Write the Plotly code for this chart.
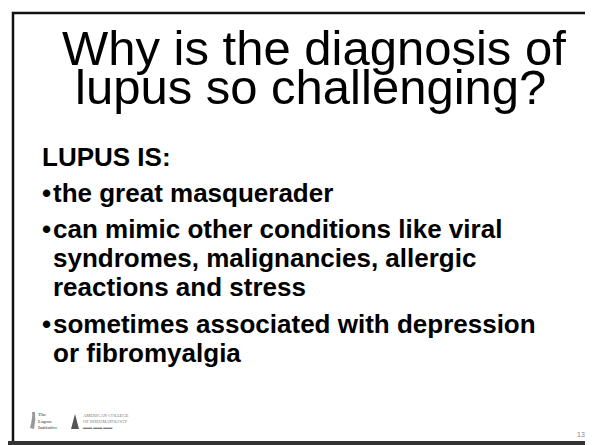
import plotly.graph_objects as go

W, H = 593, 445

title_lines = ["Why is the diagnosis of", "lupus so challenging?"]
heading = "LUPUS IS:"
bullets = [
    ["the great masquerader"],
    ["can mimic other conditions like viral", "syndromes, malignancies, allergic", "reactions and stress"],
    ["sometimes associated with depression", "or fibromyalgia"],
]
page_number = "13"

fig = go.Figure()
annotations = []
shapes = []

# frame
shapes.append(dict(type="rect", x0=5, x1=W + 5, y0=5, y1=436, line=dict(color="#111111", width=2.5),
                   fillcolor="rgba(0,0,0,0)", layer="below"))
shapes.append(dict(type="rect", x0=0, x1=W, y0=433, y1=H, line=dict(width=0), fillcolor="#333333"))

# title
title_font = dict(family="Liberation Sans, Arial", size=49, color="#000000")
title_centers = [306, 302]
title_mid = [40, 79]
for txt, cx, cy in zip(title_lines, title_centers, title_mid):
    annotations.append(dict(text=txt, x=cx, y=cy, xref="x", yref="y", showarrow=False,
                            xanchor="center", yanchor="middle", font=title_font))

# body
body_font = dict(family="Liberation Sans, Arial", size=26, color="#000000")
annotations.append(dict(text="<b>" + heading + "</b>", x=32, y=149, xref="x", yref="y", showarrow=False,
                        xanchor="left", yanchor="middle", font=body_font))
para_starts = [185, 221, 316]
line_step = 29
for para, y0 in zip(bullets, para_starts):
    for i, line in enumerate(para):
        y = y0 + i * line_step
        if i == 0:
            annotations.append(dict(text="<b>•</b>", x=32, y=y, xref="x", yref="y", showarrow=False,
                                    xanchor="left", yanchor="middle", font=body_font))
        annotations.append(dict(text="<b>" + line + "</b>", x=43, y=y, xref="x", yref="y", showarrow=False,
                                xanchor="left", yanchor="middle", font=body_font))

# logos (approximation as small grey text)
annotations.append(dict(text="<b>The<br>Lupus<br>Initiative</b>", x=28, y=413, xref="x", yref="y",
                        showarrow=False, xanchor="left", yanchor="middle", align="left",
                        font=dict(family="Liberation Serif", size=5, color="#777777")))
shapes.append(dict(type="path", path="M 63 421 L 67 406 L 71 421 Z", fillcolor="#555555", line=dict(width=0)))
annotations.append(dict(text="AMERICAN COLLEGE<br>OF RHEUMATOLOGY<br>▬▬ ▬▬ ▬▬", x=73, y=413, xref="x", yref="y",
                        showarrow=False, xanchor="left", yanchor="middle", align="left",
                        font=dict(family="Liberation Serif", size=4.5, color="#777777")))
shapes.append(dict(type="path", path="M 22 420 Q 25 408 24 404 L 27 404 Q 28 412 26 421 Z",
                   fillcolor="#999999", line=dict(width=0)))

annotations.append(dict(text=page_number, x=573, y=426, xref="x", yref="y", showarrow=False,
                        xanchor="center", yanchor="middle",
                        font=dict(family="Liberation Sans", size=7, color="#888888")))

fig.update_layout(
    width=W, height=H, margin=dict(l=0, r=0, t=0, b=0),
    paper_bgcolor="white", plot_bgcolor="white",
    xaxis=dict(range=[0, W], visible=False, fixedrange=True),
    yaxis=dict(range=[H, 0], visible=False, fixedrange=True),
    annotations=annotations, shapes=shapes, showlegend=False,
)
fig.write_html("out.html", config={"displayModeBar": False})
